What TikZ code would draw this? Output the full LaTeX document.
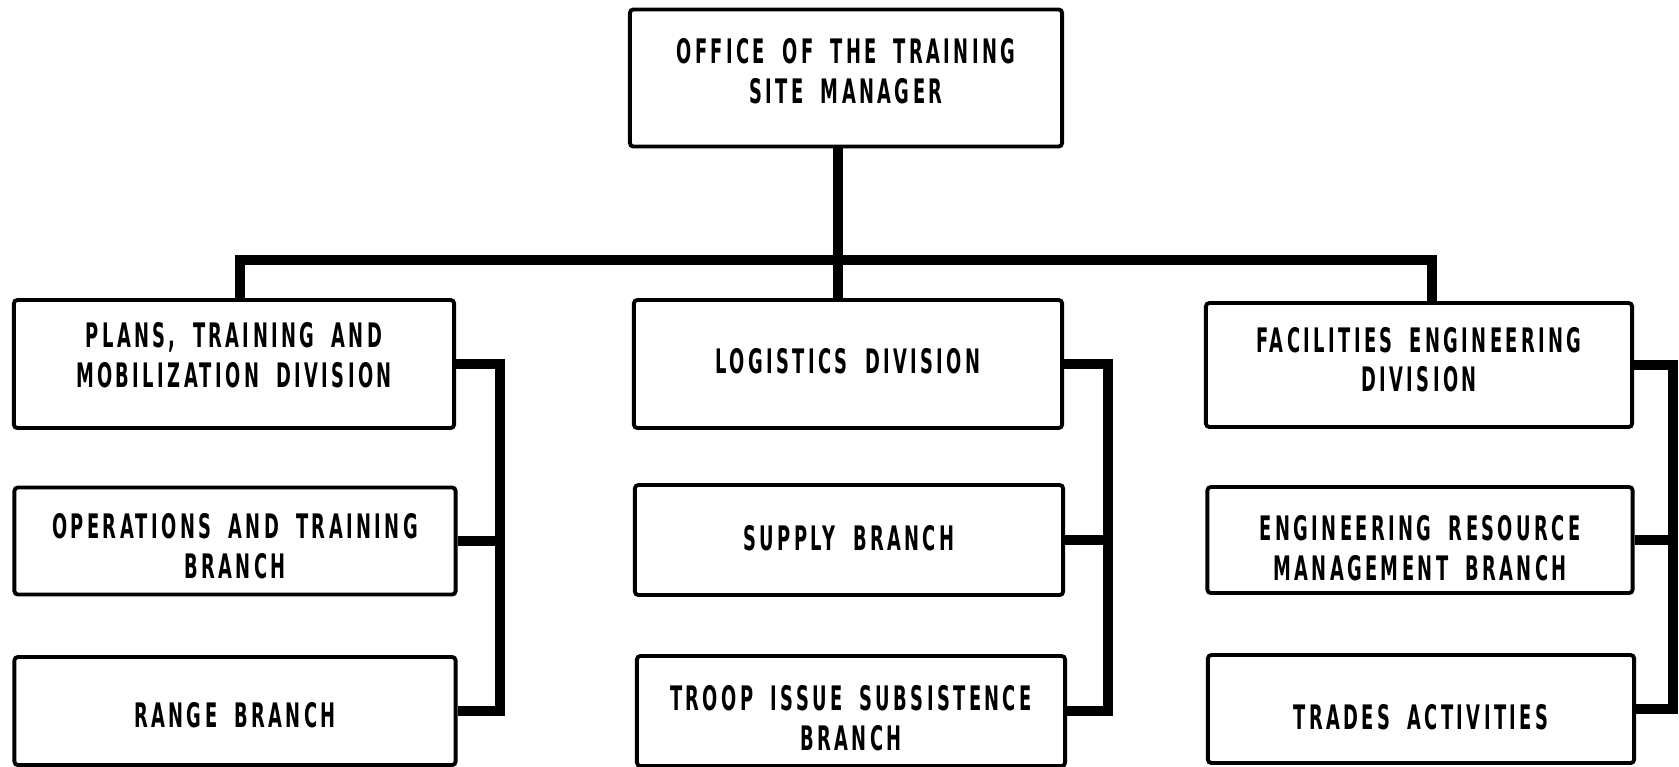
\documentclass[tikz,border=0pt]{standalone}
\usepackage{fontspec}
\newfontfamily\orgfont{DejaVu Sans}[FakeStretch=0.53,LetterSpace=10,WordSpace=1.8]

\begin{document}
\begin{tikzpicture}[x=0.01cm,y=-0.01cm,
  box/.style={draw, line width=1.1pt, rounded corners=1pt, align=center, inner sep=0pt,
    font=\orgfont\bfseries\fontsize{9.6}{11.3}\selectfont, text height=7pt, text depth=0pt},
  two/.style={text height=18.3pt},
  link/.style={line width=2.8pt}]
\useasboundingbox (0,0) rectangle (1679,766);
\node[box, two, text depth=3.7pt, minimum width=4.32cm, minimum height=1.37cm] (n1) at (846,78) {OFFICE OF THE TRAINING\\SITE MANAGER};
\node[box, two, text depth=5.1pt, minimum width=4.4cm, minimum height=1.28cm] (n2) at (234,364) {PLANS, TRAINING AND\\MOBILIZATION DIVISION};
\node[box, text depth=1.7pt, minimum width=4.28cm, minimum height=1.28cm] (n3) at (848,364) {LOGISTICS DIVISION};
\node[box, two, text depth=3.1pt, minimum width=4.26cm, minimum height=1.24cm] (n4) at (1419,365) {FACILITIES ENGINEERING\\DIVISION};
\node[box, two, text height=21.4pt, minimum width=4.41cm, minimum height=1.07cm] (n5) at (235,541) {OPERATIONS AND TRAINING\\BRANCH};
\node[box, text depth=0.8pt, minimum width=4.28cm, minimum height=1.1cm] (n6) at (849,540) {SUPPLY BRANCH};
\node[box, two, text height=23.1pt, minimum width=4.25cm, minimum height=1.06cm] (n7) at (1420,540) {ENGINEERING RESOURCE\\MANAGEMENT BRANCH};
\node[box, text height=9.3pt, minimum width=4.41cm, minimum height=1.08cm] (n8) at (235,711) {RANGE BRANCH};
\node[box, two, text height=22.5pt, minimum width=4.28cm, minimum height=1.1cm] (n9) at (851,711) {TROOP ISSUE SUBSISTENCE\\BRANCH};
\node[box, text height=11.6pt, minimum width=4.26cm, minimum height=1.08cm] (n10) at (1421,709) {TRADES ACTIVITIES};
% bus from the top office
\coordinate (j) at (838,260);
\coordinate (bl) at (240,260);
\coordinate (br) at (1432,260);
\draw[link] (n1.south -| j) -- (j) -- (n3.north -| j);
\draw[link] (n2.north -| bl) -- (bl) -- (br) -- (n4.north -| br);
% side spines
\coordinate (sl) at (500,0);
\coordinate (sm) at (1108,0);
\coordinate (sr) at (1673,0);
\draw[link] (n2.east) -- (n2.east -| sl) -- (n8.east -| sl) -- (n8.east);
\draw[link] (n5.east) -- (n5.east -| sl);
\draw[link] (n3.east) -- (n3.east -| sm) -- (n9.east -| sm) -- (n9.east);
\draw[link] (n6.east) -- (n6.east -| sm);
\draw[link] (n4.east) -- (n4.east -| sr) -- (n10.east -| sr) -- (n10.east);
\draw[link] (n7.east) -- (n7.east -| sr);
\end{tikzpicture}
\end{document}
